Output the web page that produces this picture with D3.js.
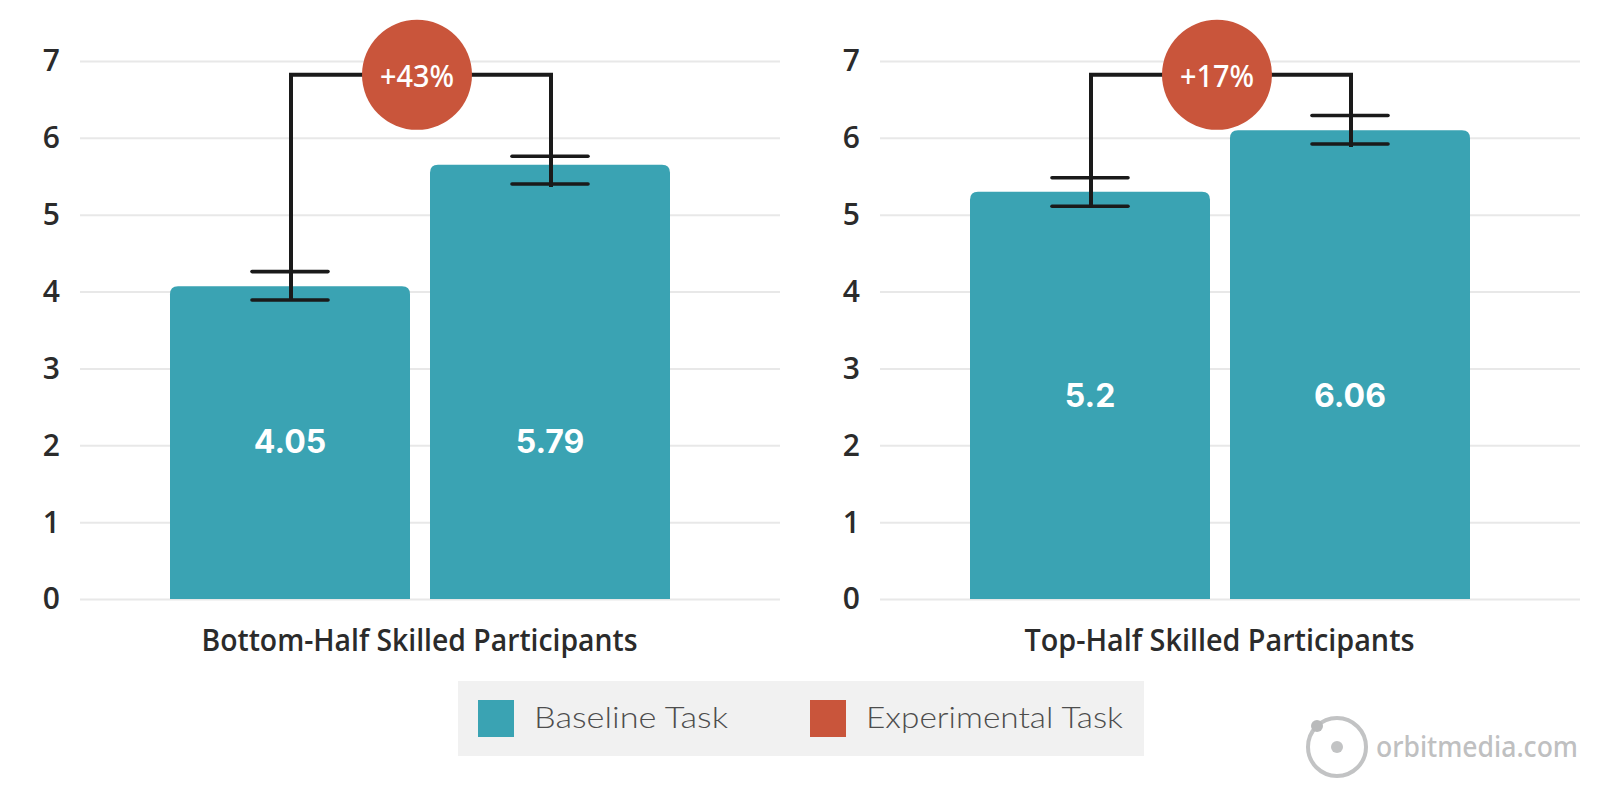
<!DOCTYPE html>
<html><head><meta charset="utf-8">
<script src="https://cdnjs.cloudflare.com/ajax/libs/d3/7.8.5/d3.min.js"></script>
<style>html,body{margin:0;padding:0;background:#fff}svg{display:block}text{font-family:Lato,"Open Sans",sans-serif}</style>
</head><body><div id="chart"></div>
<script>
const panels = ["Bottom-Half Skilled Participants", "Top-Half Skilled Participants"];
const tasks = ["Baseline Task", "Experimental Task"];
const taskColors = ["#3aa3b3", "#c9553b"];
const barHeights = [[4.07, 5.65], [5.30, 6.10]];
const barLabels = [["4.05", "5.79"], ["5.2", "6.06"]];
const labelLevels = [2.05, 2.65];
const errorHigh = [[4.26, 5.76], [5.48, 6.29]];
const errorLow = [[3.89, 5.40], [5.11, 5.92]];
const bracketLevel = 6.82;
const gains = ["+43%", "+17%"];
const yTicks = [0, 1, 2, 3, 4, 5, 6, 7];
const panelLeft = [80, 880], panelWidth = 700;

const svg = d3.select("#chart").append("svg").attr("width", 1600).attr("height", 800);
const y = d3.scaleLinear().domain([0, 7]).range([599, 61]);
const ink = "#1a1a1a";

panels.forEach((name, p) => {
  const L = panelLeft[p];
  const g = svg.append("g");
  const x = d3.scaleBand().domain(tasks).range([L + 90, L + 590]).paddingInner(1 / 13);
  const axis = g.append("g").attr("transform", `translate(${L},0)`)
    .call(d3.axisLeft(y).tickValues(yTicks).tickSize(-panelWidth).tickPadding(20).tickFormat(d3.format("d")));
  axis.select(".domain").remove();
  axis.selectAll("line").attr("stroke", "#e8e8e8").attr("stroke-width", 2);
  axis.selectAll("text").attr("fill", "#2b2b2b").attr("font-size", 30).attr("font-weight", 600)
    .style("font-family", "'Open Sans'").attr("dy", "0.33em");

  const bw = x.bandwidth(), r = 8, hw = 38;
  g.selectAll("path.bar").data(tasks).join("path").attr("class", "bar")
    .attr("fill", taskColors[0])
    .attr("d", (t, i) => {
      const x0 = x(t), y0 = y(barHeights[p][i]);
      return `M${x0},${y(0)}V${y0 + r}Q${x0},${y0} ${x0 + r},${y0}H${x0 + bw - r}Q${x0 + bw},${y0} ${x0 + bw},${y0 + r}V${y(0)}Z`;
    });
  g.selectAll("text.val").data(tasks).join("text").attr("class", "val")
    .attr("x", t => x(t) + bw / 2)
    .attr("y", y(labelLevels[p]) + 12)
    .attr("text-anchor", "middle").attr("fill", "#fff")
    .attr("font-size", 32).attr("font-weight", 700)
    .style("font-family", "Inter")
    .text((t, i) => barLabels[p][i]);

  tasks.forEach((t, i) => {
    const cx = x(t) + bw / 2;
    [errorHigh[p][i], errorLow[p][i]].forEach(v => {
      g.append("line").attr("x1", cx - hw).attr("x2", cx + hw).attr("y1", y(v)).attr("y2", y(v))
        .attr("stroke", ink).attr("stroke-width", 3.6).attr("stroke-linecap", "round");
    });
  });
  const c0 = x(tasks[0]) + bw / 2 + 1, c1 = x(tasks[1]) + bw / 2 + 1;
  g.append("path").attr("fill", "none").attr("stroke", ink).attr("stroke-width", 4)
    .attr("d", d3.line()([[c0, y(errorLow[p][0])], [c0, y(bracketLevel)], [c1, y(bracketLevel)], [c1, y(errorLow[p][1]) + 3]]));
  const mx = (c0 + c1) / 2 - 4;
  g.append("circle").attr("cx", mx).attr("cy", y(bracketLevel)).attr("r", 55).attr("fill", taskColors[1]);
  g.append("text").attr("x", mx).attr("y", y(bracketLevel) + 12).attr("text-anchor", "middle")
    .attr("fill", "#fff").attr("font-size", 31).attr("font-weight", 500)
    .style("font-family", "'Noto Sans'")
    .attr("textLength", 74).attr("lengthAdjust", "spacingAndGlyphs").text(gains[p]);
  g.append("text").attr("x", L + 339.5).attr("y", 651).attr("text-anchor", "middle")
    .attr("fill", "#2b2b2b").attr("font-size", 31).attr("font-weight", 600)
    .style("font-family", "'Open Sans'")
    .attr("textLength", p === 0 ? 436 : 390).attr("lengthAdjust", "spacingAndGlyphs").text(name);
});

const lg = svg.append("g");
lg.append("rect").attr("x", 458).attr("y", 681).attr("width", 686).attr("height", 75).attr("fill", "#f1f1f1");
const swatchX = [478, 810], labelX = [534, 866], labelW = [194, 257];
tasks.forEach((t, i) => {
  lg.append("rect").attr("x", swatchX[i]).attr("y", 700).attr("width", 36).attr("height", 37).attr("fill", taskColors[i]);
  lg.append("text").attr("x", labelX[i]).attr("y", 728).attr("fill", "#4d4d4d")
    .attr("font-size", 30).attr("font-weight", 300)
    .attr("textLength", labelW[i]).attr("lengthAdjust", "spacingAndGlyphs").text(t);
});

const wm = svg.append("g");
wm.append("circle").attr("cx", 1337).attr("cy", 747).attr("r", 29).attr("fill", "none").attr("stroke", "#c2c3c4").attr("stroke-width", 4);
wm.append("circle").attr("cx", 1317).attr("cy", 726).attr("r", 6).attr("fill", "#b9babb");
wm.append("circle").attr("cx", 1337).attr("cy", 747).attr("r", 6).attr("fill", "#c2c3c4");
wm.append("text").attr("x", 1376).attr("y", 757).attr("fill", "#bfc0c1").attr("font-size", 28).attr("font-weight", 500)
  .style("font-family", "'Noto Sans'")
  .attr("textLength", 202).attr("lengthAdjust", "spacingAndGlyphs").text("orbitmedia.com");
</script></body></html>
